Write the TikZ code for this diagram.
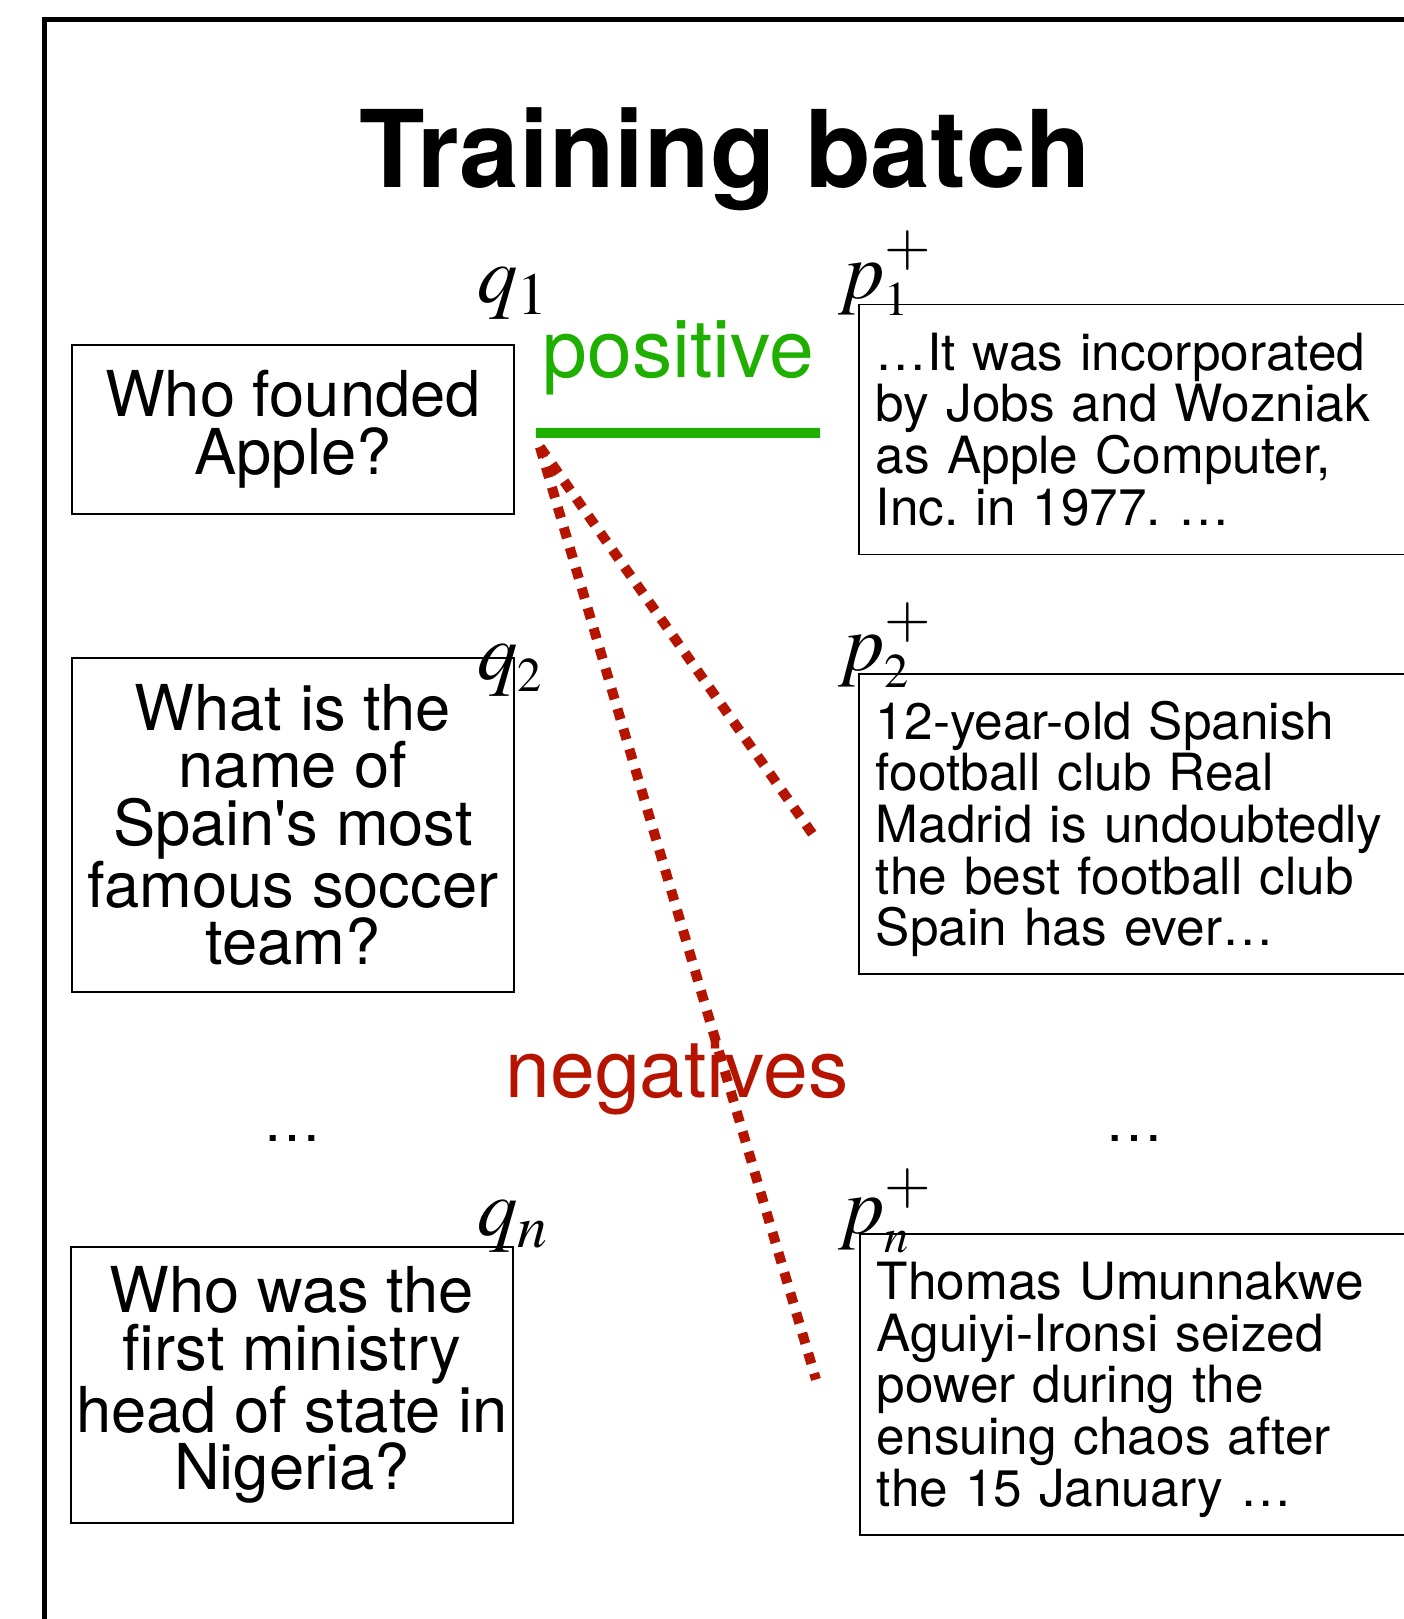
\documentclass[tikz,border=0pt]{standalone}
\usepackage{mathptmx}
\usepackage{fontspec}
\setmainfont{TeX Gyre Heros}
\frenchspacing
\usetikzlibrary{positioning,calc}
\definecolor{PosGreen}{RGB}{30,175,0}
\definecolor{NegRed}{RGB}{180,20,0}
\tikzset{
	qbox/.style={draw=black,line width=1.1pt,anchor=north west,minimum width=8.84cm,
		align=center,inner sep=0pt,font=\fontsize{36}{32.8}\selectfont},
	pbox/.style={draw=black,line width=1.1pt,anchor=north west,text width=12cm,
		inner xsep=0.34cm,inner ysep=0pt,align=left,font=\fontsize{29.2}{29.4}\selectfont},
	lbl/.style={anchor=base west,inner sep=0pt,font=\fontsize{46}{50}\selectfont},
	posline/.style={draw=PosGreen,line width=0.2cm},
	negline/.style={draw=NegRed,line width=0.2cm,dash pattern=on 0.22cm off 0.2cm},
}

\begin{document}
\begin{tikzpicture}
	\useasboundingbox (0,0) rectangle (28.08,-32.38);
	\clip (0,0) rectangle (28.08,-32.38);
	\draw[line width=0.1cm] (0.88,-0.38) rectangle (29,-33);
	\node[font=\fontsize{61}{66}\selectfont\bfseries,anchor=base] (title) at (14.51,-3.74) {Training batch};

	\node[qbox,minimum height=3.38cm] (q1) at (1.42,-6.88) {Who founded\\Apple?};
	\node[qbox,minimum height=6.68cm] (q2) at (1.42,-13.14) {What is the\\name of\\Spain\textquotesingle s most\\famous soccer\\team?};
	\node[qbox,minimum height=5.52cm] (qn) at (1.40,-24.92) {Who was the\\first ministry\\head of state in\\Nigeria?};

	\node[pbox,minimum height=5.0cm] (p1) at (17.16,-6.07) {…It was incorporated\\by Jobs and Wozniak\\as Apple Computer,\\Inc. in 1977. …};
	\node[pbox,minimum height=6.0cm] (p2) at (17.16,-13.46) {\rule{0pt}{0.96cm}12-year-old Spanish\\football club Real\\Madrid is undoubtedly\\the best football club\\Spain has ever…};
	\node[pbox,minimum height=6.02cm] (pn) at (17.18,-24.66) {\rule{0pt}{0.96cm}Thomas Umunnakwe\\Aguiyi-Ironsi seized\\power during the\\ensuing chaos after\\the 15 January …};

	\node[lbl] (lq1) at (9.54,-6.04) {$q_1$};
	\node[lbl] (lq2) at (9.54,-13.58) {$q_{\scriptscriptstyle 2}$};
	\node[lbl] (lqn) at (9.54,-24.70) {$q_n$};
	\node[lbl] (lp1) at (16.76,-5.96) {$p^{+}_{\scriptscriptstyle 1}$};
	\node[lbl] (lp2) at (16.76,-13.40) {$p^{+}_{\scriptscriptstyle 2}$};
	\node[lbl] (lpn) at (16.76,-24.66) {$p^{+}_{\scriptscriptstyle n}$};

	\node[font=\fontsize{33}{36}\selectfont,anchor=base] (qdots) at (5.84,-22.82) {…};
	\node[font=\fontsize{33}{36}\selectfont,anchor=base] (pdots) at (22.68,-22.82) {…};

	\node[font=\fontsize{45.8}{50}\selectfont,text=PosGreen,anchor=base] (postxt) at (13.57,-7.54) {positive};
	\node[font=\fontsize{45.8}{50}\selectfont,text=NegRed,anchor=base] (negtxt) at (13.54,-21.94) {negatives};

	\draw[posline] ([shift={(0.42,-0.07)}]q1.east) -- ([shift={(-0.76,-0.07)}]p1.west);
	\draw[negline] ([shift={(0.5,-0.35)}]q1.east) -- ([shift={(-0.84,-0.3)}]p2.west);
	\draw[negline] ([shift={(0.5,-0.35)}]q1.east) -- ([shift={(-0.86,0.1)}]pn.west);
\end{tikzpicture}
\end{document}
